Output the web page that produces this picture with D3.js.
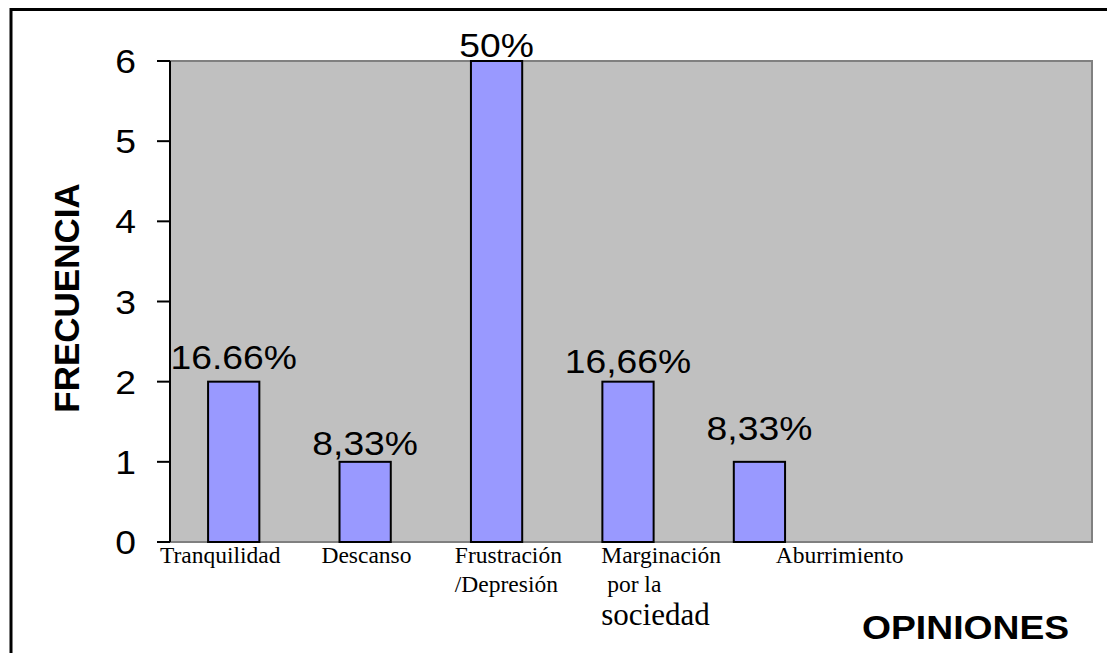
<!DOCTYPE html>
<html>
<head>
<meta charset="utf-8">
<script src="https://cdn.jsdelivr.net/npm/d3@7"></script>
<style>
  html, body { margin: 0; padding: 0; background: #fff; }
  svg { display: block; }
</style>
</head>
<body>
<svg id="chart"></svg>
<script>
// datos del gráfico
const categories = ["Tranquilidad", "Descanso", "Frustración", "Marginación", "Aburrimiento", "c6", "c7"];
const labelLines = [["Tranquilidad"], ["Descanso"], ["Frustración", "/Depresión"], ["Marginación", " por la", "sociedad"], ["Aburrimiento"], [], []];
const frequencies = [2, 1, 6, 2, 1, null, null];
const percentLabels = ["16.66%", "8,33%", "50%", "16,66%", "8,33%", "", ""];
const yTicks = [0, 1, 2, 3, 4, 5, 6];

const width = 1107, height = 653;
const plot = { left: 170, top: 61, right: 1092, bottom: 542 };
const sans = "Arial, 'Liberation Sans', sans-serif";
const serif = "'Liberation Serif', 'Times New Roman', serif";
const stretch = 1.13; // el original está algo ensanchado

const svg = d3.select("#chart").attr("width", width).attr("height", height);

function wideText(px, py, txt, size, anchor, bold) {
  return svg.append("text")
    .attr("transform", `translate(${px},${py}) scale(${stretch},1)`)
    .attr("text-anchor", anchor)
    .attr("font-family", sans)
    .attr("font-size", size)
    .attr("font-weight", bold ? "bold" : "normal")
    .text(txt);
}

// marco exterior
svg.append("path")
  .attr("d", `M11,${height} L11,9.5 L${width},9.5`)
  .attr("fill", "none").attr("stroke", "#000").attr("stroke-width", 3);

const x = d3.scaleBand().domain(categories).range([plot.left - 2, plot.right - 4]).padding(0);
const y = d3.scaleLinear().domain([0, 6]).range([plot.bottom, plot.top]);

// área del gráfico
svg.append("rect")
  .attr("x", plot.left).attr("y", plot.top)
  .attr("width", plot.right - plot.left).attr("height", plot.bottom - plot.top)
  .attr("fill", "#c0c0c0").attr("stroke", "#808080").attr("stroke-width", 2);

const rows = categories.map((c, i) => ({ c, i, v: frequencies[i], p: percentLabels[i] })).filter(d => d.v != null);

// barras
const barW = x.bandwidth() * 0.39;
svg.append("g").selectAll("rect")
  .data(rows)
  .enter().append("rect")
  .attr("x", d => x(d.c) + x.bandwidth() / 2 - barW / 2)
  .attr("y", d => y(d.v))
  .attr("width", barW)
  .attr("height", d => y(0) - y(d.v))
  .attr("fill", "#9999ff").attr("stroke", "#000").attr("stroke-width", 2);

// etiquetas de porcentaje (separación sobre la barra como en el original)
const labelGap = [13, 7, 4, 9, 22];
rows.forEach(d => {
  wideText(x(d.c) + x.bandwidth() / 2, y(d.v) - labelGap[d.i], d.p, 33, "middle", false);
});

// eje Y
svg.append("line")
  .attr("x1", plot.left).attr("x2", plot.left)
  .attr("y1", plot.top).attr("y2", plot.bottom)
  .attr("stroke", "#000").attr("stroke-width", 2);
yTicks.forEach(t => {
  svg.append("line")
    .attr("x1", plot.left - 13).attr("x2", plot.left)
    .attr("y1", y(t)).attr("y2", y(t))
    .attr("stroke", "#000").attr("stroke-width", 2);
  wideText(plot.left - 34, y(t) + 12, d3.format("d")(t), 33, "end", false);
});

// etiquetas del eje X (cajas de texto alineadas a la izquierda)
const labelShift = [-8, 22, 24, 39, 82, 0, 0];
const lineY = [563, 592, 625];
const lineSize = [23.5, 23.5, 31];
labelLines.forEach((lines, i) => {
  lines.forEach((t, j) => {
    svg.append("text")
      .attr("x", x(categories[i]) + labelShift[i])
      .attr("y", lineY[j])
      .attr("font-family", serif)
      .attr("font-size", lineSize[j])
      .attr("xml:space", "preserve")
      .text(t);
  });
});

// títulos de ejes
svg.append("text")
  .attr("transform", "translate(79,298) rotate(-90)")
  .attr("text-anchor", "middle")
  .attr("font-family", sans)
  .attr("font-weight", "bold").attr("font-size", 35)
  .text("FRECUENCIA");

wideText(862, 639, "OPINIONES", 33, "start", true);
</script>
</body>
</html>
